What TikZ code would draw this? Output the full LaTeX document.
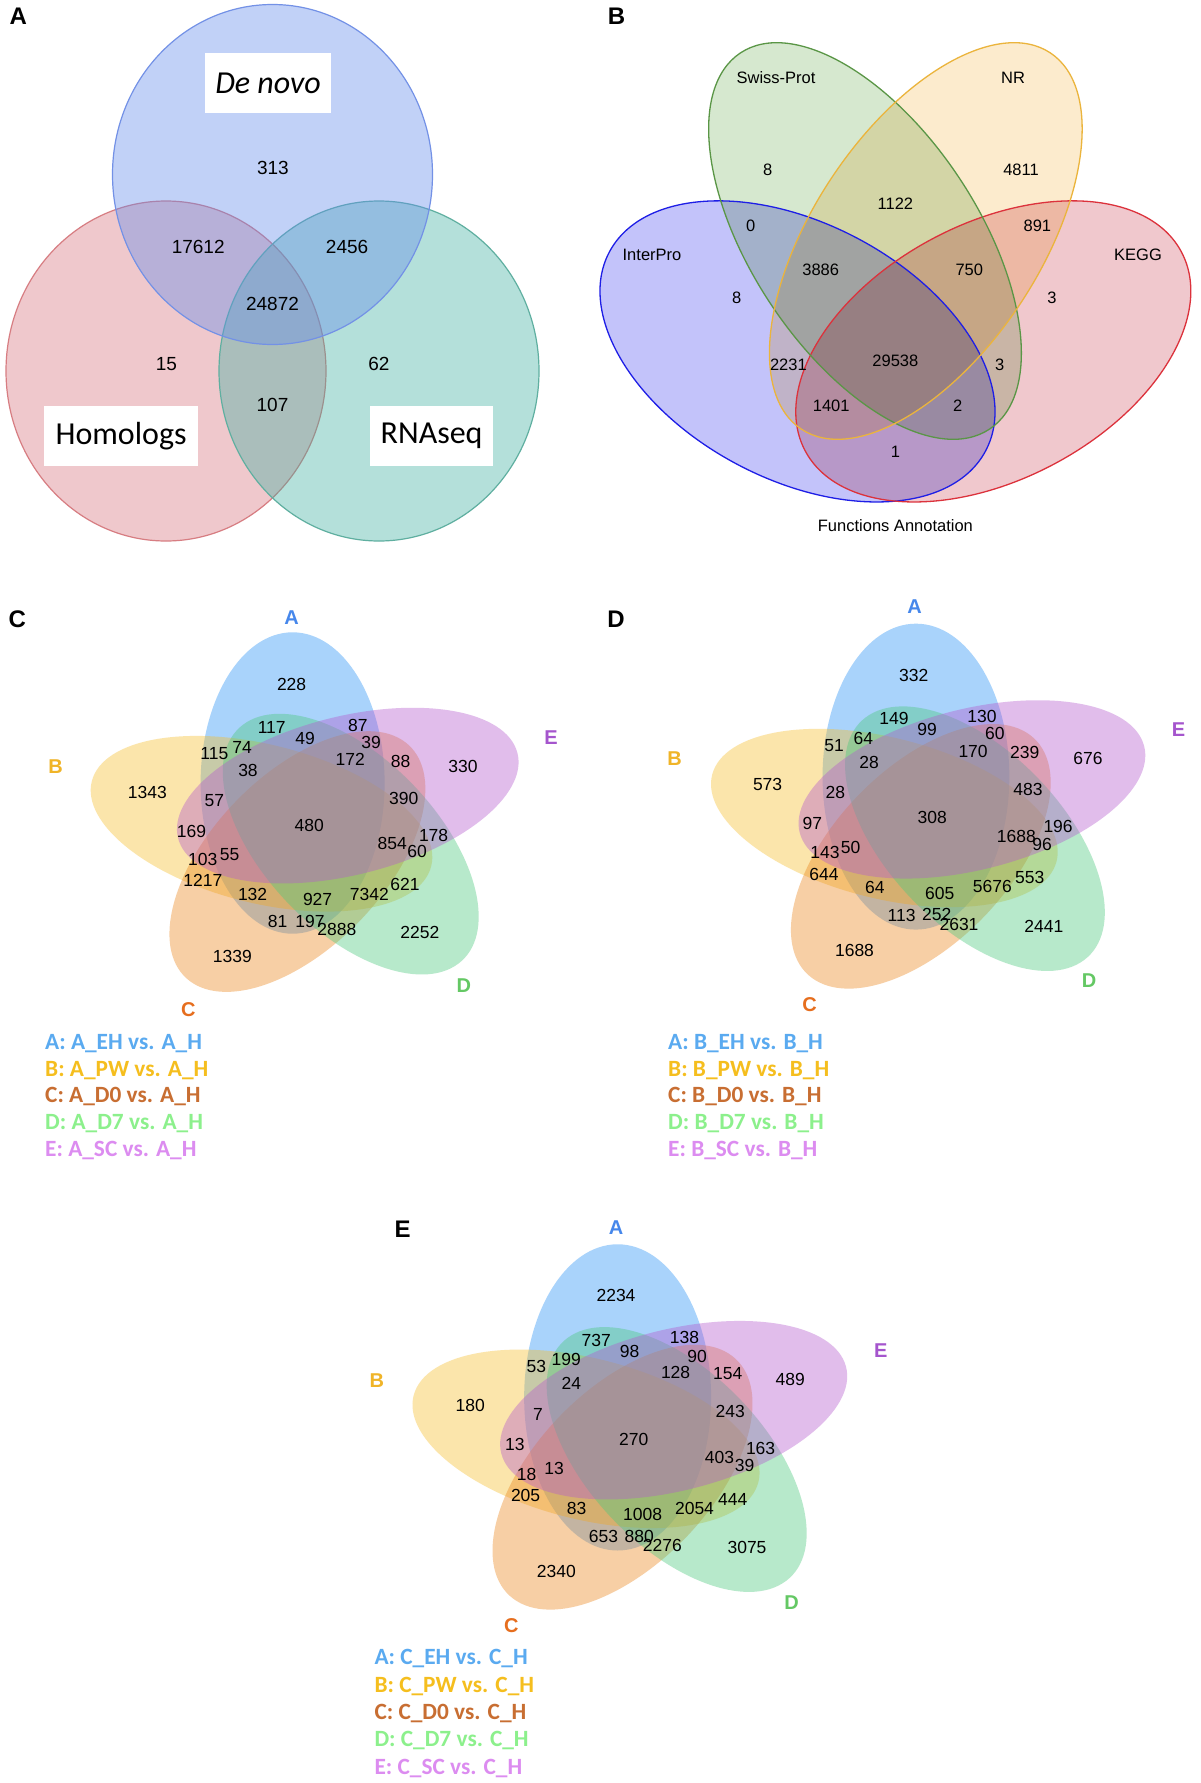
\documentclass[tikz,border=0pt]{standalone}
\usepackage{fontspec}
\setmainfont{Liberation Sans}
\newfontfamily\carl{Carlito}
\definecolor{aBlue}{RGB}{100,140,235}\definecolor{aBlueL}{RGB}{115,145,230}
\definecolor{aRed}{RGB}{210,100,110}\definecolor{aRedL}{RGB}{215,125,130}
\definecolor{aTeal}{RGB}{60,175,160}\definecolor{aTealL}{RGB}{95,175,160}
\definecolor{bGreen}{RGB}{214,232,207}\definecolor{bGreenL}{RGB}{90,150,70}
\definecolor{bOrange}{RGB}{252,235,205}\definecolor{bOrangeL}{RGB}{235,180,60}
\definecolor{bBlue}{RGB}{195,195,250}\definecolor{bBlueL}{RGB}{30,30,230}
\definecolor{bRed}{RGB}{240,200,205}\definecolor{bRedL}{RGB}{220,50,60}
\definecolor{vA}{RGB}{40,145,245}\definecolor{vB}{RGB}{245,190,45}
\definecolor{vC}{RGB}{235,135,30}\definecolor{vD}{RGB}{75,200,125}
\definecolor{vE}{RGB}{180,90,205}
\definecolor{sA}{RGB}{70,135,235}\definecolor{sB}{RGB}{240,180,40}
\definecolor{sC}{RGB}{230,110,30}\definecolor{sD}{RGB}{100,200,100}
\definecolor{sE}{RGB}{165,85,205}
\definecolor{lA}{RGB}{90,170,240}\definecolor{lB}{RGB}{245,190,30}
\definecolor{lC}{RGB}{200,110,50}\definecolor{lD}{RGB}{140,240,140}
\definecolor{lE}{RGB}{220,140,240}
\newcommand\putn[5]{\node[#1] (#2) at (#3,#4) {#5};}
\newcommand\fivevenn[3]{%
\begin{scope}[shift={(#1,#2)},xscale=1.175*#3,yscale=#3,fill opacity=0.4]
\fill[vA,rotate around={90:(-14.8,-38.6)}] (-14.8,-38.6) ellipse [x radius=150.7,y radius=78.3];
\fill[vB,rotate around={162:(-41.28,2.15)}] (-41.28,2.15) ellipse [x radius=150.7,y radius=78.3];
\fill[vC,rotate around={-126:(-10.72,39.93)}] (-10.72,39.93) ellipse [x radius=150.7,y radius=78.3];
\fill[vD,rotate around={-54:(34.66,22.53)}] (34.66,22.53) ellipse [x radius=150.7,y radius=78.3];
\fill[vE,rotate around={18:(32.14,-26.01)}] (32.14,-26.01) ellipse [x radius=150.7,y radius=78.3];
\end{scope}}
\begin{document}
\begin{tikzpicture}[x=1pt,y=-1pt,
  panel/.style={font=\fontsize{24}{28}\selectfont\bfseries,inner sep=0pt},
  anum/.style={font=\fontsize{19}{22}\selectfont,inner sep=0pt},
  bnum/.style={font=\fontsize{16.5}{19}\selectfont,inner sep=0pt},
  vnum/.style={font=\fontsize{17.5}{20}\selectfont,inner sep=0pt},
  setname/.style={font=\fontsize{20}{24}\selectfont\bfseries,inner sep=0pt},
  abox/.style={fill=white,inner sep=0pt,minimum height=59.5pt,font=\carl\fontsize{32}{38}\selectfont},
  leg/.style={font=\carl\bfseries\fontsize{23.3}{28}\selectfont,inner sep=0pt,anchor=base west},
]
\useasboundingbox[fill=white] (0,0) rectangle (1200,1783);

% ---------------- Panel A ----------------
\filldraw[fill=aRed,fill opacity=0.35,draw=aRedL,line width=1.2pt] (166,371) ellipse [x radius=160,y radius=170];
\filldraw[fill=aTeal,fill opacity=0.38,draw=aTealL,line width=1.2pt] (379,371) ellipse [x radius=160,y radius=170];
\filldraw[fill=aBlue,fill opacity=0.4,draw=aBlueL,line width=1.2pt] (272.5,174.5) ellipse [x radius=160,y radius=170];
\node[abox,minimum width=126.7pt] (denovo) at (268,83) {\itshape De novo};
\node[abox,minimum width=154.2pt] (homologs) at (121.1,436.1) {Homologs};
\node[abox,minimum width=122.5pt] (rnaseq) at (431.6,436.1) {RNAseq};
\putn{anum}{a313}{272.9}{167.8}{313}
\putn{anum}{a17612}{198.2}{247}{17612}
\putn{anum}{a2456}{347.1}{247}{2456}
\putn{anum}{a24872}{272.5}{303.5}{24872}
\putn{anum}{a15}{166.5}{364.1}{15}
\putn{anum}{a62}{378.9}{364.1}{62}
\putn{anum}{a107}{272.5}{405.2}{107}
\putn{panel}{pA}{18.3}{16.2}{A}

% ---------------- Panel B ----------------
\begin{scope}[blend mode=multiply]
\fill[bBlue,rotate around={-27.8:(797.5,351.4)}] (797.5,351.4) ellipse [x radius=212.8,y radius=128];
\fill[bRed,rotate around={27.8:(993.3,351.4)}] (993.3,351.4) ellipse [x radius=212.8,y radius=128];
\fill[bGreen,rotate around={-56.5:(865,241)}] (865,241) ellipse [x radius=225.6,y radius=113.4];
\fill[bOrange,rotate around={56.5:(925.8,241)}] (925.8,241) ellipse [x radius=225.6,y radius=113.4];
\end{scope}
\draw[bBlueL,line width=1.3pt,rotate around={-27.8:(797.5,351.4)}] (797.5,351.4) ellipse [x radius=212.8,y radius=128];
\draw[bRedL,line width=1.3pt,rotate around={27.8:(993.3,351.4)}] (993.3,351.4) ellipse [x radius=212.8,y radius=128];
\draw[bGreenL,line width=1.3pt,rotate around={-56.5:(865,241)}] (865,241) ellipse [x radius=225.6,y radius=113.4];
\draw[bOrangeL,line width=1.3pt,rotate around={56.5:(925.8,241)}] (925.8,241) ellipse [x radius=225.6,y radius=113.4];
\putn{bnum}{bswiss}{776}{77.8}{Swiss-Prot}
\putn{bnum}{bnr}{1013}{77.8}{NR}
\putn{bnum}{binter}{652}{254.5}{InterPro}
\putn{bnum}{bkegg}{1138}{254.5}{KEGG}
\putn{bnum}{b8a}{767.8}{169.6}{8}
\putn{bnum}{b4811}{1021}{169.6}{4811}
\putn{bnum}{b1122}{895.4}{204.2}{1122}
\putn{bnum}{b0}{750.7}{226}{0}
\putn{bnum}{b891}{1037.4}{226}{891}
\putn{bnum}{b3886}{820.7}{270.2}{3886}
\putn{bnum}{b750}{969.3}{270.2}{750}
\putn{bnum}{b8b}{736.7}{297.4}{8}
\putn{bnum}{b3a}{1052}{297.4}{3}
\putn{bnum}{b2231}{788.4}{365.2}{2231}
\putn{bnum}{b29538}{895.4}{360.6}{29538}
\putn{bnum}{b3b}{999.6}{365.2}{3}
\putn{bnum}{b1401}{831.2}{405.9}{1401}
\putn{bnum}{b2}{957.6}{405.9}{2}
\putn{bnum}{b1}{895.4}{451.6}{1}
\putn{bnum}{bfunc}{895.4}{525.5}{Functions Annotation}
\putn{panel}{pB}{616.5}{16.2}{B}

% ---------------- Panel C ----------------
\fivevenn{310}{821.6}{1}
\putn{panel}{pC}{17.2}{618.9}{C}
\putn{setname,text=sA}{cA}{291.6}{617.8}{A}
\putn{setname,text=sB}{cB}{55.5}{766.9}{B}
\putn{setname,text=sC}{cC}{188.3}{1009.2}{C}
\putn{setname,text=sD}{cD}{463.8}{985.9}{D}
\putn{setname,text=sE}{cE}{551.1}{738}{E}
\putn{vnum}{c228}{291.6}{684.4}{228}
\putn{vnum}{c117}{271.7}{727.6}{117}
\putn{vnum}{c87}{357.8}{725}{87}
\putn{vnum}{c49}{305}{738.7}{49}
\putn{vnum}{c39}{371.2}{742.4}{39}
\putn{vnum}{c115}{214.3}{753.5}{115}
\putn{vnum}{c74}{242.2}{747.3}{74}
\putn{vnum}{c172}{350.2}{759.5}{172}
\putn{vnum}{c88}{400.7}{761}{88}
\putn{vnum}{c330}{463}{766.5}{330}
\putn{vnum}{c38}{248}{770.6}{38}
\putn{vnum}{c1343}{147.3}{792.8}{1343}
\putn{vnum}{c57}{214.3}{800.9}{57}
\putn{vnum}{c390}{403.7}{798.3}{390}
\putn{vnum}{c480}{309.2}{825}{480}
\putn{vnum}{c169}{191.4}{831.2}{169}
\putn{vnum}{c178}{433.6}{835}{178}
\putn{vnum}{c854}{392.3}{843.5}{854}
\putn{vnum}{c60}{417.1}{851.6}{60}
\putn{vnum}{c103}{202.8}{859.4}{103}
\putn{vnum}{c55}{229.6}{854.6}{55}
\putn{vnum}{c1217}{202.8}{880.5}{1217}
\putn{vnum}{c621}{404.9}{884.9}{621}
\putn{vnum}{c132}{252.6}{894.1}{132}
\putn{vnum}{c7342}{369.3}{894.1}{7342}
\putn{vnum}{c927}{317.6}{899}{927}
\putn{vnum}{c81}{277.5}{921.2}{81}
\putn{vnum}{c197}{310}{921.2}{197}
\putn{vnum}{c2888}{336.8}{929.7}{2888}
\putn{vnum}{c2252}{419.8}{932.3}{2252}
\putn{vnum}{c1339}{232.3}{956.3}{1339}
\node[leg,text=lA] (cl1) at (45,1049) {A: A\_EH vs. A\_H};
\node[leg,text=lB] (cl2) at (45,1076) {B: A\_PW vs. A\_H};
\node[leg,text=lC] (cl3) at (45,1102.5) {C: A\_D0 vs. A\_H};
\node[leg,text=lD] (cl4) at (45,1129.5) {D: A\_D7 vs. A\_H};
\node[leg,text=lE] (cl5) at (45,1156) {E: A\_SC vs. A\_H};

% ---------------- Panel D ----------------
\fivevenn{933.6}{815.8}{1.015}
\putn{panel}{pD}{616.1}{618.9}{D}
\putn{setname,text=sA}{dA}{914.6}{606.7}{A}
\putn{setname,text=sB}{dB}{674.6}{758.4}{B}
\putn{setname,text=sC}{dC}{809.7}{1004.4}{C}
\putn{setname,text=sD}{dD}{1089.1}{980.4}{D}
\putn{setname,text=sE}{dE}{1178.6}{729.9}{E}
\putn{vnum}{d332}{913.8}{675.1}{332}
\putn{vnum}{d149}{893.9}{718.8}{149}
\putn{vnum}{d130}{981.9}{716.5}{130}
\putn{vnum}{d64a}{863.3}{738.7}{64}
\putn{vnum}{d99}{927.2}{729.9}{99}
\putn{vnum}{d60}{994.9}{733.6}{60}
\putn{vnum}{d51}{834.2}{745.4}{51}
\putn{vnum}{d170}{973.1}{751}{170}
\putn{vnum}{d239}{1024.8}{752.1}{239}
\putn{vnum}{d28a}{869}{762}{28}
\putn{vnum}{d676}{1087.9}{758.4}{676}
\putn{vnum}{d573}{767.6}{784.3}{573}
\putn{vnum}{d28b}{835.4}{792.8}{28}
\putn{vnum}{d483}{1027.9}{789.8}{483}
\putn{vnum}{d308}{932.2}{817.6}{308}
\putn{vnum}{d97}{812.4}{823.1}{97}
\putn{vnum}{d196}{1058.1}{826.8}{196}
\putn{vnum}{d1688a}{1016.4}{836}{1688}
\putn{vnum}{d96}{1042}{844.6}{96}
\putn{vnum}{d143}{825}{852}{143}
\putn{vnum}{d50}{850.7}{847.2}{50}
\putn{vnum}{d644}{823.9}{874.2}{644}
\putn{vnum}{d553}{1029.8}{877.9}{553}
\putn{vnum}{d64b}{874.8}{887.9}{64}
\putn{vnum}{d5676}{992.3}{886.7}{5676}
\putn{vnum}{d605}{939.8}{893.4}{605}
\putn{vnum}{d113}{901.6}{915.6}{113}
\putn{vnum}{d252}{936.8}{914.9}{252}
\putn{vnum}{d2631}{959}{924.1}{2631}
\putn{vnum}{d2441}{1043.9}{926.7}{2441}
\putn{vnum}{d1688b}{854.5}{950}{1688}
\node[leg,text=lA] (dl1) at (668,1049) {A: B\_EH vs. B\_H};
\node[leg,text=lB] (dl2) at (668,1076) {B: B\_PW vs. B\_H};
\node[leg,text=lC] (dl3) at (668,1102.5) {C: B\_D0 vs. B\_H};
\node[leg,text=lD] (dl4) at (668,1129.5) {D: B\_D7 vs. B\_H};
\node[leg,text=lE] (dl5) at (668,1156) {E: B\_SC vs. B\_H};

% ---------------- Panel E ----------------
\fivevenn{635.3}{1436.6}{1.016}
\putn{panel}{pE}{402.5}{1229}{E}
\putn{setname,text=sA}{eA}{616}{1227.9}{A}
\putn{setname,text=sB}{eB}{376.8}{1380.3}{B}
\putn{setname,text=sC}{eC}{511.4}{1625.7}{C}
\putn{setname,text=sD}{eD}{791.6}{1602.3}{D}
\putn{setname,text=sE}{eE}{880.9}{1350.6}{E}
\putn{vnum}{e2234}{616}{1295.9}{2234}
\putn{vnum}{e737}{596.3}{1340.5}{737}
\putn{vnum}{e138}{684.5}{1337.6}{138}
\putn{vnum}{e98}{629.5}{1351.7}{98}
\putn{vnum}{e90}{697}{1356.2}{90}
\putn{vnum}{e53}{536.4}{1366.6}{53}
\putn{vnum}{e199}{566.3}{1359.9}{199}
\putn{vnum}{e128}{675.6}{1372.9}{128}
\putn{vnum}{e154}{727.7}{1373.6}{154}
\putn{vnum}{e489}{790.2}{1379.6}{489}
\putn{vnum}{e24}{571.3}{1383.3}{24}
\putn{vnum}{e180}{470.3}{1405.6}{180}
\putn{vnum}{e7}{538.1}{1414.5}{7}
\putn{vnum}{e243}{730.2}{1411.2}{243}
\putn{vnum}{e270}{633.8}{1439.1}{270}
\putn{vnum}{e13a}{514.9}{1444.3}{13}
\putn{vnum}{e163}{760.6}{1448.4}{163}
\putn{vnum}{e403}{719.5}{1457.3}{403}
\putn{vnum}{e39}{744.5}{1465.1}{39}
\putn{vnum}{e18}{526.7}{1474}{18}
\putn{vnum}{e13b}{554.2}{1468.4}{13}
\putn{vnum}{e205}{525.6}{1495.6}{205}
\putn{vnum}{e444}{732.7}{1499.3}{444}
\putn{vnum}{e83}{576.7}{1508.6}{83}
\putn{vnum}{e2054}{694.5}{1508.6}{2054}
\putn{vnum}{e1008}{642.7}{1514.9}{1008}
\putn{vnum}{e653}{603.5}{1536.5}{653}
\putn{vnum}{e880}{639.2}{1536.5}{880}
\putn{vnum}{e2276}{662.4}{1545.8}{2276}
\putn{vnum}{e3075}{747}{1547.6}{3075}
\putn{vnum}{e2340}{556.3}{1571.8}{2340}
\node[leg,text=lA] (el1) at (374.3,1664.5) {A: C\_EH vs. C\_H};
\node[leg,text=lB] (el2) at (374.3,1692) {B: C\_PW vs. C\_H};
\node[leg,text=lC] (el3) at (374.3,1719) {C: C\_D0 vs. C\_H};
\node[leg,text=lD] (el4) at (374.3,1746.5) {D: C\_D7 vs. C\_H};
\node[leg,text=lE] (el5) at (374.3,1774) {E: C\_SC vs. C\_H};
\end{tikzpicture}
\end{document}
